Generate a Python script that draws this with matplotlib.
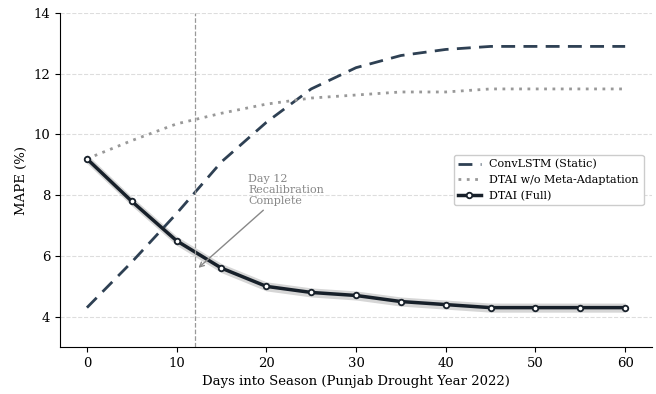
import matplotlib
matplotlib.use("Agg")
import matplotlib.pyplot as plt
import numpy as np

days = [0, 5, 10, 15, 20, 25, 30, 35, 40, 45, 50, 55, 60]
convlstm = [4.3, 5.8, 7.4, 9.1, 10.4, 11.5, 12.2, 12.6, 12.8, 12.9, 12.9, 12.9, 12.9]
dtai_nometa = [9.2, 9.8, 10.35, 10.7, 11.0, 11.2, 11.3, 11.4, 11.4, 11.5, 11.5, 11.5, 11.5]
dtai_full = [9.2, 7.8, 6.5, 5.6, 5.0, 4.8, 4.7, 4.5, 4.4, 4.3, 4.3, 4.3, 4.3]
band = 0.15

plt.rcParams['font.family'] = 'DejaVu Serif'
fig = plt.figure(figsize=(6.56, 3.94), dpi=100)
ax = fig.add_axes([0.0915, 0.119, 0.9025, 0.848])

ax.plot(days, convlstm, color='#2e4053', lw=2, ls=(0, (5, 3)), label='ConvLSTM (Static)')
ax.plot(days, dtai_nometa, color='#999999', lw=2, ls=(0, (1, 2)), label='DTAI w/o Meta-Adaptation')
lo = np.array(dtai_full) - band
hi = np.array(dtai_full) + band
ax.fill_between(days, lo, hi, color='#bbbbbb', alpha=0.6, lw=0)
ax.plot(days, dtai_full, color='#17202a', lw=2.5, marker='o', ms=4,
        mfc='white', mec='#17202a', mew=1.3, label='DTAI (Full)')

ax.axvline(12, color='#999999', ls='--', lw=0.9)
ax.annotate('Day 12\nRecalibration\nComplete', xy=(12.2, 5.55), xytext=(18, 8.7),
            fontsize=8, color='#888888', va='top', ha='left', linespacing=1.1,
            arrowprops=dict(arrowstyle='->', color='#888888', lw=1))

ax.set_xlim(-3, 63)
ax.set_ylim(3, 14)
ax.set_yticks([4, 6, 8, 10, 12, 14])
ax.set_xticks([0, 10, 20, 30, 40, 50, 60])
ax.grid(axis='y', ls='--', color='#dddddd', lw=0.8)
ax.set_axisbelow(True)
ax.spines['top'].set_visible(False)
ax.spines['right'].set_visible(False)
ax.tick_params(labelsize=9.5)
ax.set_xlabel('Days into Season (Punjab Drought Year 2022)', fontsize=9.5)
ax.set_ylabel('MAPE (%)', fontsize=9.5)
ax.legend(loc='center right', bbox_to_anchor=(0.995, 0.5), fontsize=8, framealpha=1, edgecolor='#cccccc')

fig.savefig('out.png', dpi=100)
